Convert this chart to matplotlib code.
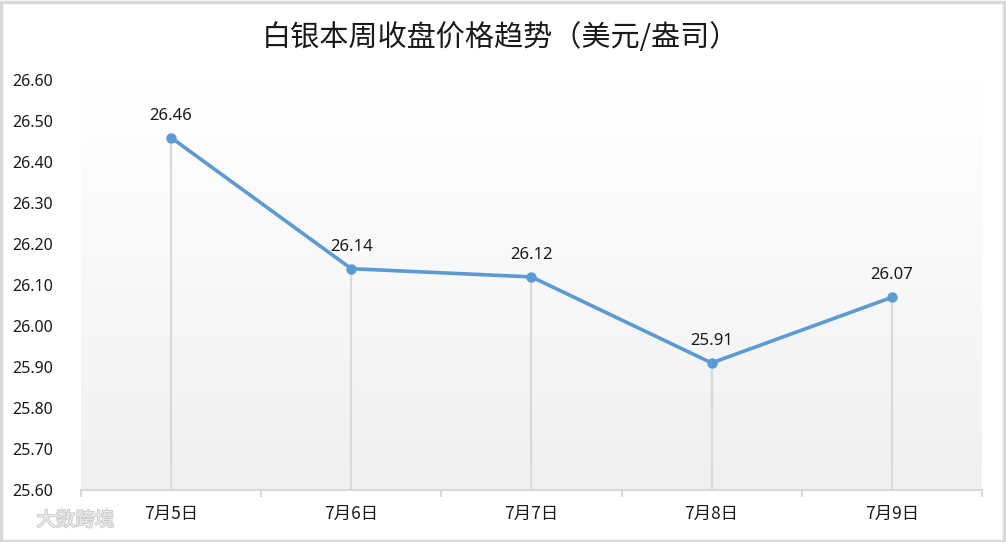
import numpy as np
import matplotlib.pyplot as plt
import matplotlib.patheffects as pe
from matplotlib.patches import Rectangle
from matplotlib.colors import LinearSegmentedColormap

plt.rcParams['font.family'] = ['Noto Sans CJK SC', 'DejaVu Sans']

# data
dates = ["7月5日", "7月6日", "7月7日", "7月8日", "7月9日"]
prices = [26.46, 26.14, 26.12, 25.91, 26.07]
yticks = [25.60, 25.70, 25.80, 25.90, 26.00, 26.10, 26.20, 26.30, 26.40, 26.50, 26.60]
title = "白银本周收盘价格趋势（美元/盎司）"

line_color = "#5B9BD5"
grid_gray = "#d9d9d9"

fig = plt.figure(figsize=(10.06, 5.42), dpi=100)
ax = fig.add_axes([0.0805, 0.096, 0.8955, 0.756])

x = np.arange(len(dates))
ymin, ymax = yticks[0], yticks[-1]

# gradient background, white on top to light gray at bottom
grad = np.linspace(0, 1, 256).reshape(-1, 1)
bg = LinearSegmentedColormap.from_list("bg", ["#ffffff", "#f8f8f8", "#f0f0f0"])
ax.imshow(grad, extent=[-0.5, len(dates) - 0.5, ymin, ymax], aspect='auto',
          cmap=bg, origin='upper', zorder=0)

# drop lines
ax.vlines(x, ymin, prices, colors=grid_gray, linewidth=1.5, zorder=1)

ax.plot(x, prices, color=line_color, linewidth=2.6, marker='o', markersize=6.5, zorder=3)

for xi, p in zip(x, prices):
    ax.annotate(f"{p:.2f}", (xi, p), xytext=(0, 10), textcoords='offset points',
                ha='center', va='bottom', fontsize=12, color="#1a1a1a",
                family=['Noto Sans', 'DejaVu Sans'])

ax.set_xlim(-0.5, len(dates) - 0.5)
ax.set_ylim(ymin, ymax)
ax.set_yticks(yticks)
ax.set_yticklabels([f"{v:.2f}" for v in yticks], fontsize=11.5, color="#1a1a1a",
                   family=['Noto Sans', 'DejaVu Sans'])
ax.tick_params(axis='y', length=0, pad=20)

ax.set_xticks(x)
ax.set_xticklabels(dates, fontsize=12.5, color="#1a1a1a")
ax.set_xticks(np.arange(len(dates) + 1) - 0.5, minor=True)
ax.tick_params(axis='x', which='major', length=0, pad=11)
ax.tick_params(axis='x', which='minor', length=5, width=1.5, color=grid_gray, direction='out')

for side in ['top', 'right', 'left']:
    ax.spines[side].set_visible(False)
ax.spines['bottom'].set_color(grid_gray)
ax.spines['bottom'].set_linewidth(1.5)

fig.text(0.498, 0.930, title, ha='center', va='center', fontsize=21, color="#1a1a1a")

# watermark
fig.text(0.075, 0.04, "大数跨境", ha='center', va='center', fontsize=14, color="#ececec",
         path_effects=[pe.withStroke(linewidth=1.2, foreground="#c8c8c8")])

# outer border
fig.patches.append(Rectangle((0.001, 0.002), 0.997, 0.995, transform=fig.transFigure,
                             fill=False, edgecolor=grid_gray, linewidth=2.5))

fig.savefig("out.png", dpi=100)
